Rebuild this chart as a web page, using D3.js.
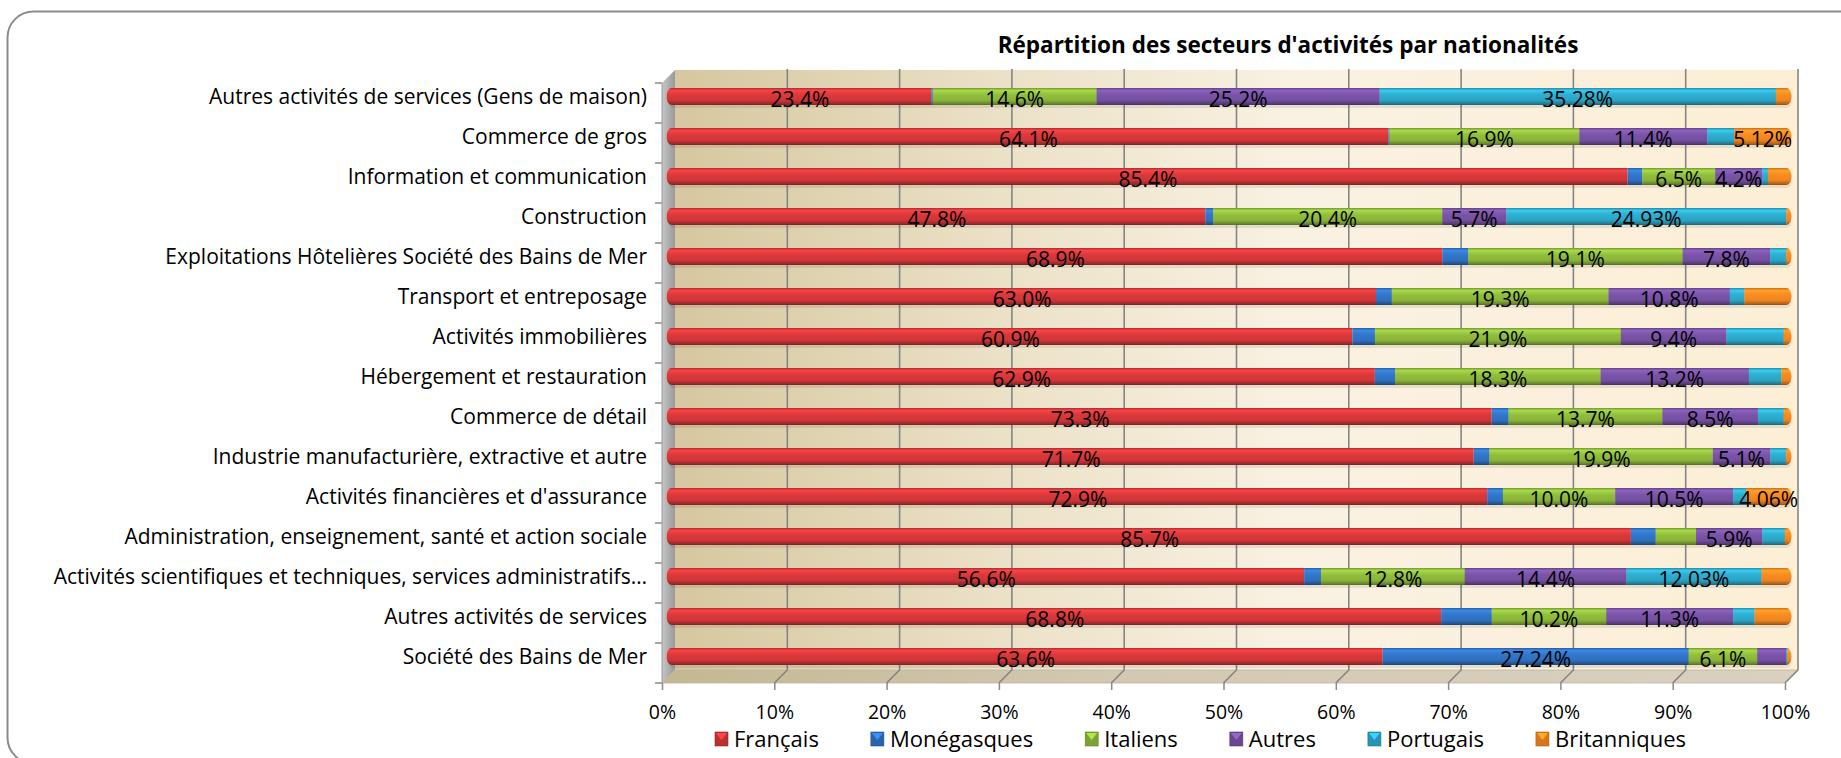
<!DOCTYPE html>
<meta charset="utf-8">
<script src="https://d3js.org/d3.v7.min.js"></script>
<style>
  body { margin: 0; background: #fff; }
  svg { display: block; font-family: "Open Sans", sans-serif; }
</style>
<body>
<script>

// DATA

var categories = [
  "Autres activités de services (Gens de maison)",
  "Commerce de gros",
  "Information et communication",
  "Construction",
  "Exploitations Hôtelières Société des Bains de Mer",
  "Transport et entreposage",
  "Activités immobilières",
  "Hébergement et restauration",
  "Commerce de détail",
  "Industrie manufacturière, extractive et autre",
  "Activités financières et d'assurance",
  "Administration, enseignement, santé et action sociale",
  "Activités scientifiques et techniques, services administratifs…",
  "Autres activités de services",
  "Société des Bains de Mer"
];

var seriesNames  = ["Français", "Monégasques", "Italiens", "Autres", "Portugais", "Britanniques"];
var seriesColors = ["#cf3638", "#2f70bf", "#8ab43a", "#74509f", "#2ca5c5", "#ee8420"];

var francais     = [23.4, 64.1, 85.4, 47.8, 68.9, 63.0, 60.9, 62.9, 73.3, 71.7, 72.9, 85.7, 56.6, 68.8, 63.6];
var monegasques  = [0.12, 0.1, 1.3, 0.7, 2.3, 1.4, 2.0, 1.8, 1.5, 1.4, 1.4, 2.2, 1.5, 4.5, 27.24];
var italiens     = [14.6, 16.9, 6.5, 20.4, 19.1, 19.3, 21.9, 18.3, 13.7, 19.9, 10.0, 3.6, 12.8, 10.2, 6.1];
var autres       = [25.2, 11.4, 4.2, 5.7, 7.8, 10.8, 9.4, 13.2, 8.5, 5.1, 10.5, 5.9, 14.4, 11.3, 2.6];
var portugais    = [35.28, 2.38, 0.5, 24.93, 1.4, 1.3, 5.1, 2.9, 2.3, 1.4, 1.14, 2.0, 12.03, 1.9, 0.1];
var britanniques = [1.4, 5.12, 2.1, 0.47, 0.5, 4.2, 0.7, 0.9, 0.7, 0.5, 4.06, 0.6, 2.67, 3.3, 0.36];

// which segments carry a value label (1 = shown)
var labelFrancais     = [1,1,1,1,1,1,1,1,1,1,1,1,1,1,1];
var labelMonegasques  = [0,0,0,0,0,0,0,0,0,0,0,0,0,0,1];
var labelItaliens     = [1,1,1,1,1,1,1,1,1,1,1,0,1,1,1];
var labelAutres       = [1,1,1,1,1,1,1,1,1,1,1,1,1,1,0];
var labelPortugais    = [1,0,0,1,0,0,0,0,0,0,0,0,1,0,0];
var labelBritanniques = [0,1,0,0,0,0,0,0,0,0,1,0,0,0,0];

var xTicks = d3.range(0, 101, 10);

var seriesValues = [francais, monegasques, italiens, autres, portugais, britanniques];
var seriesLabels = [labelFrancais, labelMonegasques, labelItaliens, labelAutres, labelPortugais, labelBritanniques];


// GLOBALS

var width = 1841;
var height = 758;

var wall = { left: 675, right: 1798, top: 70, bottom: 670 };
var depth = 13;
var barH = 17;


// SVG SETUP

var svg = d3.select("body")
  .append("svg")
  .attr("width", width)
  .attr("height", height);

var defs = svg.append("defs");


// SCALES

var xBack = d3.scaleLinear()
  .domain([0, 100])
  .range([wall.left, wall.right]);

var xBar = d3.scaleLinear()
  .domain([0, 100])
  .range([wall.left - depth / 2, wall.right - depth / 2]);

var yBand = d3.scaleBand()
  .domain(categories)
  .range([wall.top, wall.bottom]);

function barCenter(c) {
  return yBand(c) + yBand.bandwidth() / 2 + depth / 2;
}


// GRADIENTS

seriesColors.forEach(function (c, i) {
  var base = d3.color(c);
  var g = defs.append("linearGradient")
    .attr("id", "cyl" + i)
    .attr("x1", 0).attr("y1", 0).attr("x2", 0).attr("y2", 1);
  [[0, base.darker(0.5)], [0.15, base.brighter(0.55)], [0.4, base.brighter(0.15)],
   [0.72, base], [0.9, base.darker(0.7)], [1, base.darker(1.4)]]
    .forEach(function (s) {
      g.append("stop").attr("offset", s[0]).attr("stop-color", s[1]);
    });
});

var wallGrad = defs.append("linearGradient").attr("id", "wallGrad");
[[0, "#d6c79f"], [0.3, "#ece2c9"], [0.55, "#f9f1e2"], [1, "#fdefd6"]].forEach(function (s) {
  wallGrad.append("stop").attr("offset", s[0]).attr("stop-color", s[1]);
});

var floorGrad = defs.append("linearGradient").attr("id", "floorGrad");
[[0, "#c4b792"], [0.4, "#d3c9b2"], [1, "#d9d0c0"]].forEach(function (s) {
  floorGrad.append("stop").attr("offset", s[0]).attr("stop-color", s[1]);
});

var sideGrad = defs.append("linearGradient").attr("id", "sideGrad");
[[0, "#c6c6c6"], [1, "#999999"]].forEach(function (s) {
  sideGrad.append("stop").attr("offset", s[0]).attr("stop-color", s[1]);
});


// FRAME

svg.append("rect")
  .attr("x", 7.5).attr("y", 11.5)
  .attr("width", 1900).attr("height", 752)
  .attr("rx", 26)
  .attr("fill", "none")
  .attr("stroke", "#8c8c8c")
  .attr("stroke-width", 2);


// WALLS AND FLOOR

svg.append("rect")
  .attr("x", wall.left).attr("y", wall.top)
  .attr("width", wall.right - wall.left)
  .attr("height", wall.bottom - wall.top)
  .attr("fill", "url(#wallGrad)");

svg.append("path")
  .attr("d", d3.line()([[wall.left, wall.top], [wall.left, wall.bottom],
    [wall.left - depth, wall.bottom + depth], [wall.left - depth, wall.top + depth]]) + "Z")
  .attr("fill", "url(#sideGrad)");

svg.append("path")
  .attr("d", d3.line()([[wall.left - depth, wall.bottom + depth], [wall.left, wall.bottom],
    [wall.right, wall.bottom], [wall.right - depth, wall.bottom + depth]]) + "Z")
  .attr("fill", "url(#floorGrad)")
  .attr("stroke", "#bdb5a6")
  .attr("stroke-width", 0.8);

// grid lines: back wall + floor
svg.append("g")
  .selectAll("path")
  .data(xTicks.slice(1))
  .join("path")
    .attr("d", function (d) {
      return d3.line()([[xBack(d), wall.top - 1], [xBack(d), wall.bottom],
        [xBack(d) - depth, wall.bottom + depth]]);
    })
    .attr("fill", "none")
    .attr("stroke", "#858585")
    .attr("stroke-width", 1.6);

// left tick marks
svg.append("g")
  .selectAll("line")
  .data(d3.range(categories.length + 1))
  .join("line")
    .attr("x1", wall.left - depth - 7)
    .attr("x2", wall.left - depth)
    .attr("y1", function (k) { return wall.top + depth + k * yBand.step(); })
    .attr("y2", function (k) { return wall.top + depth + k * yBand.step(); })
    .attr("stroke", "#8a8a8a")
    .attr("stroke-width", 1.5);

svg.append("line")
  .attr("x1", wall.left - depth).attr("x2", wall.left - depth)
  .attr("y1", wall.top + depth).attr("y2", wall.bottom + depth)
  .attr("stroke", "#9a9a9a").attr("stroke-width", 1);


// X AXIS

var xAxis = svg.append("g")
  .attr("transform", `translate(${-depth}, ${wall.bottom + depth})`)
  .call(d3.axisBottom(xBack)
    .tickValues(xTicks)
    .tickSize(7)
    .tickPadding(15)
    .tickFormat(function (d) { return d + "%"; }));

xAxis.select(".domain").remove();
xAxis.selectAll(".tick line").attr("stroke", "#8a8a8a").attr("stroke-width", 1.5);
xAxis.selectAll(".tick text")
  .attr("fill", "#000")
  .style("font-family", "'Open Sans', sans-serif")
  .style("font-size", "19.5px");


// BARS

var rows = categories.map(function (c, i) {
  var acc = 0;
  var segs = seriesValues.map(function (vals, s) {
    var seg = { s: s, x0: acc, x1: acc + vals[i], v: vals[i], shown: seriesLabels[s][i] };
    acc += vals[i];
    return seg;
  });
  return { cat: c, i: i, segs: segs };
});

var bars = svg.append("g")
  .selectAll("g")
  .data(rows)
  .join("g");

bars.append("clipPath")
  .attr("id", function (d) { return "clip" + d.i; })
  .append("rect")
    .attr("x", xBar(0) - 2)
    .attr("y", function (d) { return barCenter(d.cat) - barH / 2; })
    .attr("width", xBar(100) - xBar(0) + 2)
    .attr("height", barH)
    .attr("rx", 5).attr("ry", barH / 2);

// soft shadow
bars.append("rect")
  .attr("x", xBar(0))
  .attr("y", function (d) { return barCenter(d.cat) - barH / 2 + 3; })
  .attr("width", xBar(100) - xBar(0))
  .attr("height", barH)
  .attr("rx", 5)
  .attr("fill", "#000")
  .attr("opacity", 0.08);

bars.append("g")
  .attr("clip-path", function (d) { return "url(#clip" + d.i + ")"; })
  .selectAll("rect")
  .data(function (d) { return d.segs.map(function (s) { s.cat = d.cat; return s; }); })
  .join("rect")
    .attr("x", function (d) { return d.s === 0 ? xBar(0) - 2 : xBar(d.x0); })
    .attr("y", function (d) { return barCenter(d.cat) - barH / 2; })
    .attr("width", function (d) { return Math.max(0, xBar(d.x1) - xBar(d.x0) + (d.s === 0 ? 2 : 0.3)); })
    .attr("height", barH)
    .attr("fill", function (d) { return "url(#cyl" + d.s + ")"; });

// value labels
function fmt(v) {
  return (Math.abs(v * 10 - Math.round(v * 10)) < 1e-6 ? v.toFixed(1) : v.toFixed(2)) + "%";
}

bars.selectAll("text")
  .data(function (d) { return d.segs.filter(function (s) { return s.shown; }); })
  .join("text")
    .attr("x", function (d) { return xBar((d.x0 + d.x1) / 2); })
    .attr("y", function (d) { return barCenter(d.cat) + 3 + 0.357 * 21; })
    .attr("text-anchor", "middle")
    .style("font-size", "21px")
    .attr("fill", "#000")
    .text(function (d) { return fmt(d.v); });


// CATEGORY LABELS

svg.append("g")
  .selectAll("text")
  .data(categories)
  .join("text")
    .attr("x", 647)
    .attr("y", function (d) { return barCenter(d) + 0.36 * 21; })
    .attr("text-anchor", "end")
    .style("font-size", "21px")
    .attr("fill", "#000")
    .text(function (d) { return d; });


// TITLE

svg.append("text")
  .attr("x", 1288)
  .attr("y", 45 + 0.36 * 22.5)
  .attr("text-anchor", "middle")
  .style("font-size", "22.5px")
  .style("font-weight", "bold")
  .attr("fill", "#000")
  .text("Répartition des secteurs d'activités par nationalités");


// LEGEND

var legend = svg.append("g").attr("transform", "translate(715, 739)");
var lx = 0;

seriesNames.forEach(function (name, i) {
  var item = legend.append("g").attr("transform", `translate(${lx}, 0)`);
  var base = d3.color(seriesColors[i]);
  item.append("rect")
    .attr("x", 0).attr("y", -7)
    .attr("width", 13).attr("height", 14)
    .attr("fill", base.darker(0.3))
    .attr("stroke", base.darker(0.9))
    .attr("stroke-width", 0.6);
  item.append("path")
    .attr("d", "M1,-6 L12,-6 L6.5,1 Z")
    .attr("fill", base.brighter(0.7));
  var t = item.append("text")
    .attr("x", 19)
    .attr("y", 0.36 * 22)
    .style("font-size", "22px")
    .attr("fill", "#000")
    .text(name);
  lx += 19 + t.node().getComputedTextLength() + 52;
});

</script>
